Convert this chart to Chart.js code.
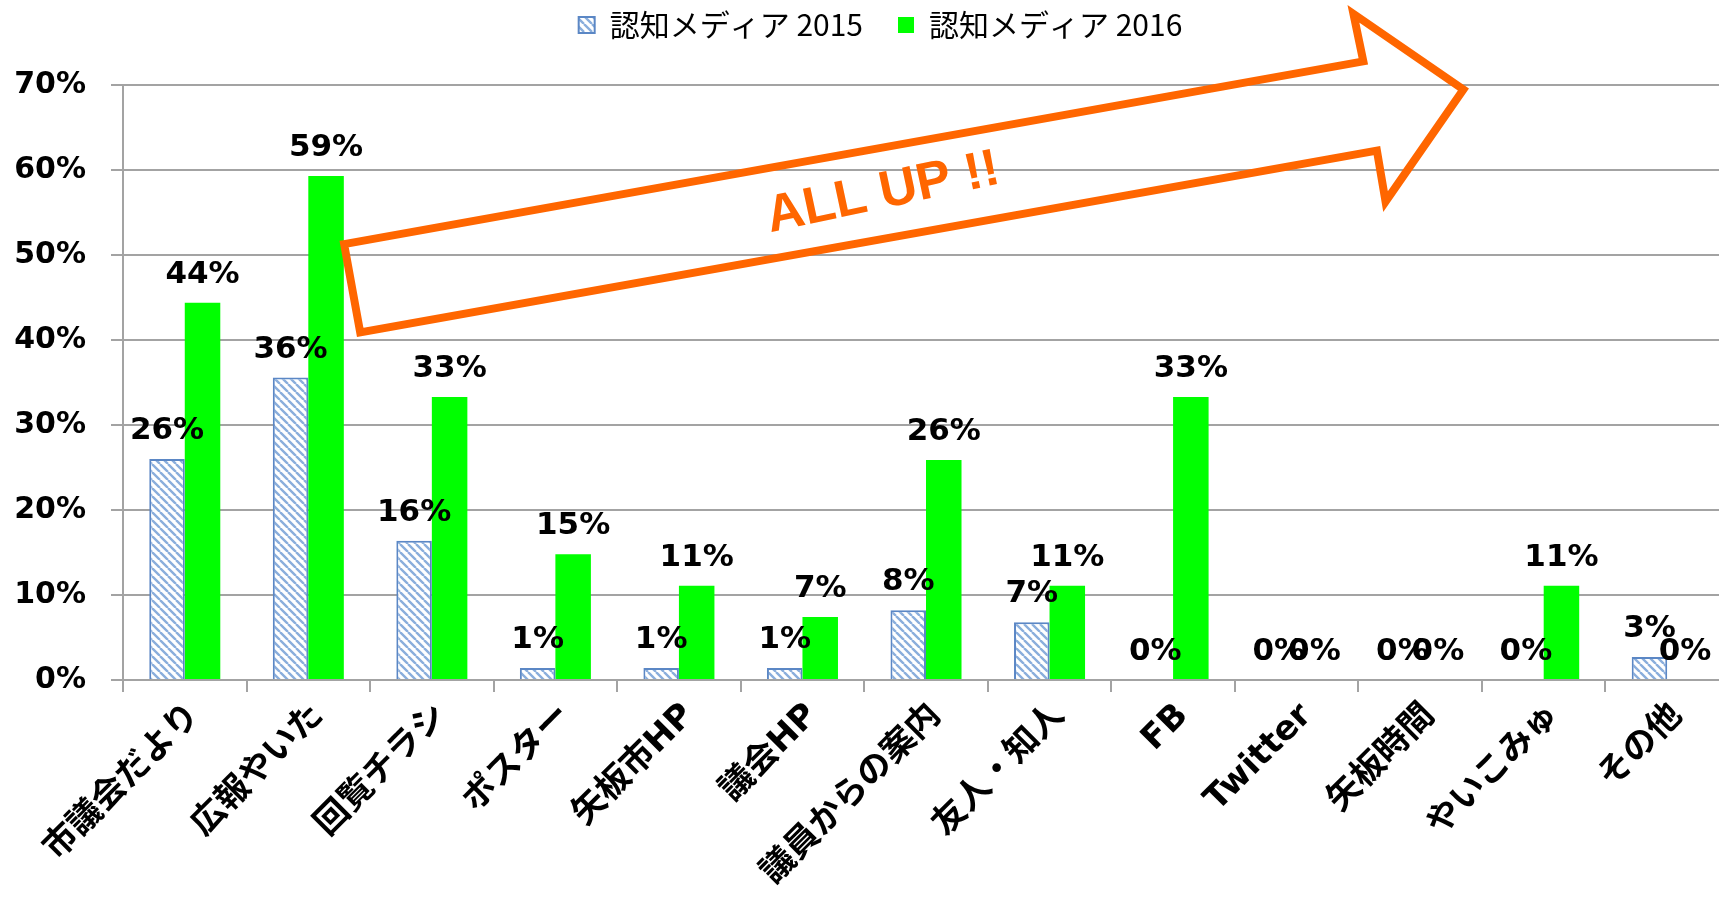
<!DOCTYPE html>
<html>
<head>
<meta charset="utf-8">
<script src="https://cdn.jsdelivr.net/npm/chart.js@4.4.1/dist/chart.umd.min.js"></script>
<style>
  html, body { margin: 0; padding: 0; background: #fff; overflow: hidden; }
  #wrap { width: 1749px; height: 903px; }
</style>
</head>
<body>
<div id="wrap"><canvas id="mediaChart" width="1749" height="903"></canvas></div>
<script>
// categories and values (% of respondents who knew each medium)
const categories = ['市議会だより', '広報やいた', '回覧チラシ', 'ポスター', '矢板市HP', '議会HP', '議員からの案内', '友人・知人', 'FB', 'Twitter', '矢板時間', 'やいこみゅ', 'その他'];
const seriesNames = ['認知メディア 2015', '認知メディア 2016'];
const values2015 = [26.0, 35.6, 16.4, 1.4, 1.4, 1.4, 8.2, 6.8, 0, 0, 0, 0, 2.7];
const values2016 = [44.4, 59.3, 33.3, 14.8, 11.1, 7.4, 25.9, 11.1, 33.3, 0, 0, 11.1, 0];
const yTicks = [0, 10, 20, 30, 40, 50, 60, 70];

const GRID = '#a3a3a3';

// diagonal hatch fill for the 2015 bars
function makeHatch() {
    const size = 8;
    const c = document.createElement('canvas');
    c.width = size;
    c.height = size;
    const g = c.getContext('2d');
    g.fillStyle = '#ffffff';
    g.fillRect(0, 0, size, size);
    g.strokeStyle = '#8aaedc';
    g.lineWidth = 2.4;
    g.beginPath();
    for (let k = -1; k <= 1; k++) {
        g.moveTo(k * size, 0);
        g.lineTo(k * size + size, size);
    }
    g.stroke();
    return g.createPattern(c, 'repeat');
}

// value labels above every bar
const barLabels = {
    id: 'barLabels',
    afterDatasetsDraw(chart) {
        const ctx = chart.ctx;
        ctx.save();
        ctx.font = 'bold 31px "DejaVu Sans"';
        ctx.fillStyle = '#000';
        ctx.textAlign = 'center';
        ctx.textBaseline = 'alphabetic';
        chart.data.datasets.forEach((ds, i) => {
            chart.getDatasetMeta(i).data.forEach((bar, j) => {
                ctx.fillText(Math.round(ds.data[j]) + '%', bar.x, bar.y - 20);
            });
        });
        ctx.restore();
    }
};

// the orange "ALL UP !!" arrow, placed in axis units
const allUpArrow = {
    id: 'allUpArrow',
    afterDraw(chart) {
        const { ctx, scales: { x, y } } = chart;
        const outline = [[1.29, 51.3], [9.54, 72.8], [9.46, 78.4], [10.35, 69.5],
                         [9.72, 56.3], [9.65, 62.3], [1.42, 40.9]];
        ctx.save();
        ctx.strokeStyle = '#ff6600';
        ctx.lineWidth = 8;
        ctx.lineJoin = 'miter';
        ctx.beginPath();
        outline.forEach(([u, v], i) => {
            const px = x.getPixelForValue(u);
            const py = y.getPixelForValue(v);
            if (i === 0) ctx.moveTo(px, py); else ctx.lineTo(px, py);
        });
        ctx.closePath();
        ctx.stroke();

        ctx.translate(x.getPixelForValue(4.74), y.getPixelForValue(52.7));
        ctx.rotate(-12 * Math.PI / 180);
        ctx.fillStyle = '#ff6600';
        ctx.font = 'bold 52px "Liberation Sans"';
        ctx.textAlign = 'left';
        ctx.textBaseline = 'alphabetic';
        ctx.fillText('ALL UP !!', 0, 0);
        ctx.restore();
    }
};

const ctx = document.getElementById('mediaChart').getContext('2d');
const mediaChart = new Chart(ctx, {
    type: 'bar',
    data: {
        labels: categories,
        datasets: [{
            label: seriesNames[0],
            data: values2015,
            backgroundColor: makeHatch(),
            borderColor: '#5b87c5',
            borderWidth: 2,
            categoryPercentage: 0.575,
            barPercentage: 1
        }, {
            label: seriesNames[1],
            data: values2016,
            backgroundColor: '#00ff00',
            borderWidth: 0,
            categoryPercentage: 0.575,
            barPercentage: 1
        }]
    },
    options: {
        responsive: false,
        animation: false,
        devicePixelRatio: 1,
        layout: { padding: { left: 12, right: 0, top: -25, bottom: 0 } },
        plugins: {
            legend: {
                position: 'top',
                labels: {
                    font: { family: '"Noto Sans CJK JP"', size: 30 },
                    color: '#000',
                    boxWidth: 16,
                    boxHeight: 16,
                    padding: 35
                }
            },
            // empty title used as a spacer between legend and plot
            title: {
                display: true,
                text: '',
                weight: 500,
                padding: { top: 34, bottom: 0 },
                font: { size: 1 }
            },
            tooltip: { enabled: false }
        },
        scales: {
            x: {
                grid: { drawOnChartArea: false, drawTicks: true, tickLength: 12, color: GRID, lineWidth: 2, offset: true },
                border: { display: true, color: GRID, width: 2 },
                ticks: {
                    autoSkip: false,
                    minRotation: 45,
                    maxRotation: 45,
                    padding: 4,
                    labelOffset: 10,
                    color: '#000',
                    font: { family: '"DejaVu Sans", "Noto Sans CJK JP"', size: 34, weight: 'bold' }
                },
                afterFit: scale => { scale.height = 223; }
            },
            y: {
                min: yTicks[0],
                max: yTicks[yTicks.length - 1],
                grid: { color: GRID, lineWidth: 2, tickLength: 12 },
                border: { display: true, color: GRID, width: 2 },
                ticks: {
                    stepSize: yTicks[1] - yTicks[0],
                    padding: 25,
                    color: '#000',
                    font: { family: '"DejaVu Sans"', size: 30, weight: 'bold' },
                    callback: v => v + '%'
                },
                afterFit: scale => { scale.width = 111; }
            },
            // invisible right box so the plot runs to x=1729 while the legend stays centred like the original
            yRight: {
                position: 'right',
                display: true,
                grid: { display: false },
                border: { display: false },
                ticks: { display: false },
                afterFit: scale => { scale.width = 20; }
            }
        }
    },
    plugins: [barLabels, allUpArrow]
});
</script>
</body>
</html>
